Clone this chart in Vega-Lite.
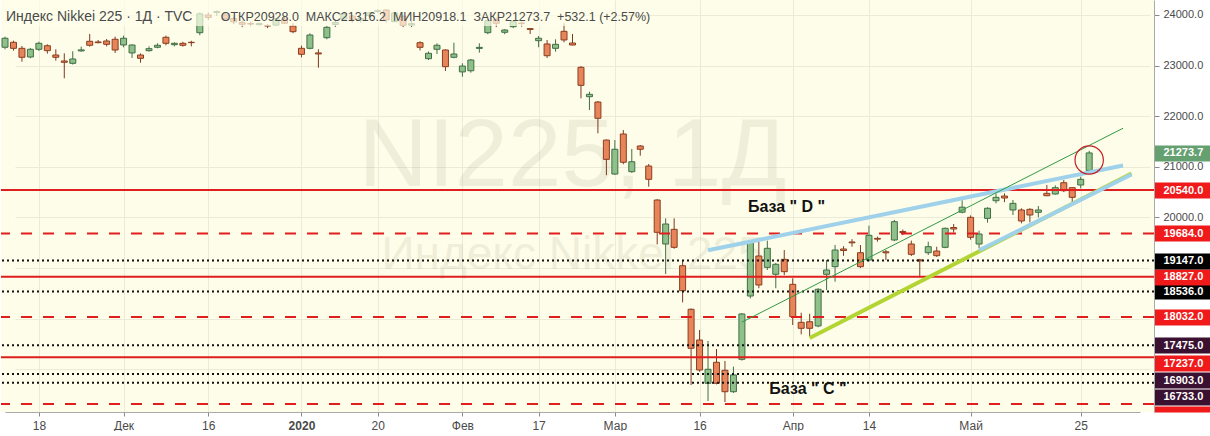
{
  "$schema": "https://vega.github.io/schema/vega-lite/v6.json",
  "width": 1153,
  "height": 412,
  "padding": 0,
  "autosize": {"type": "pad"},
  "background": "#ffffff",
  "config": {"view": {"stroke": null, "fill": "#fefde9"}, "font": "Liberation Sans"},
  "datasets": {
    "candles": [
      {"d":"2019-11-12","o":23362,"h":23572,"l":23322,"c":23540},
      {"d":"2019-11-13","o":23460,"h":23493,"l":23295,"c":23341},
      {"d":"2019-11-14","o":23341,"h":23387,"l":23077,"c":23164},
      {"d":"2019-11-15","o":23170,"h":23348,"l":23144,"c":23322},
      {"d":"2019-11-18","o":23322,"h":23473,"l":23290,"c":23440},
      {"d":"2019-11-19","o":23393,"h":23420,"l":23236,"c":23295},
      {"d":"2019-11-20","o":23209,"h":23322,"l":23097,"c":23164},
      {"d":"2019-11-21","o":23091,"h":23243,"l":22749,"c":23065},
      {"d":"2019-11-22","o":23045,"h":23282,"l":23020,"c":23130},
      {"d":"2019-11-25","o":23290,"h":23374,"l":23275,"c":23310},
      {"d":"2019-11-26","o":23480,"h":23624,"l":23374,"c":23401},
      {"d":"2019-11-27","o":23467,"h":23506,"l":23440,"c":23453},
      {"d":"2019-11-28","o":23486,"h":23525,"l":23380,"c":23420},
      {"d":"2019-11-29","o":23520,"h":23572,"l":23250,"c":23308},
      {"d":"2019-12-02","o":23407,"h":23592,"l":23361,"c":23540},
      {"d":"2019-12-03","o":23250,"h":23420,"l":23152,"c":23407},
      {"d":"2019-12-04","o":23209,"h":23240,"l":23057,"c":23144},
      {"d":"2019-12-05","o":23295,"h":23380,"l":23275,"c":23334},
      {"d":"2019-12-06","o":23362,"h":23440,"l":23342,"c":23401},
      {"d":"2019-12-09","o":23559,"h":23592,"l":23400,"c":23440},
      {"d":"2019-12-10","o":23413,"h":23460,"l":23380,"c":23440},
      {"d":"2019-12-11","o":23440,"h":23470,"l":23375,"c":23401},
      {"d":"2019-12-12","o":23460,"h":23490,"l":23380,"c":23453},
      {"d":"2019-12-13","o":23650,"h":24050,"l":23600,"c":24023},
      {"d":"2019-12-16","o":24000,"h":24050,"l":23900,"c":23952},
      {"d":"2019-12-17","o":24050,"h":24090,"l":23980,"c":24066},
      {"d":"2019-12-18","o":24000,"h":24050,"l":23900,"c":23934},
      {"d":"2019-12-19","o":23930,"h":23970,"l":23820,"c":23864},
      {"d":"2019-12-20","o":23850,"h":23890,"l":23760,"c":23816},
      {"d":"2019-12-23","o":23830,"h":23870,"l":23780,"c":23821},
      {"d":"2019-12-24","o":23810,"h":23850,"l":23790,"c":23830},
      {"d":"2019-12-25","o":23790,"h":23820,"l":23740,"c":23782},
      {"d":"2019-12-26","o":23800,"h":23940,"l":23790,"c":23924},
      {"d":"2019-12-27","o":23920,"h":23960,"l":23820,"c":23837},
      {"d":"2019-12-30","o":23782,"h":23836,"l":23640,"c":23670},
      {"d":"2020-01-06","o":23341,"h":23394,"l":23164,"c":23223},
      {"d":"2020-01-07","o":23341,"h":23638,"l":23322,"c":23604},
      {"d":"2020-01-08","o":23250,"h":23322,"l":22958,"c":23230},
      {"d":"2020-01-09","o":23551,"h":23783,"l":23520,"c":23756},
      {"d":"2020-01-10","o":23813,"h":23903,"l":23761,"c":23850},
      {"d":"2020-01-14","o":23920,"h":24060,"l":23900,"c":24025},
      {"d":"2020-01-15","o":23980,"h":24000,"l":23850,"c":23916},
      {"d":"2020-01-16","o":23900,"h":23950,"l":23850,"c":23933},
      {"d":"2020-01-17","o":23990,"h":24060,"l":23950,"c":24041},
      {"d":"2020-01-20","o":24070,"h":24115,"l":24040,"c":24083},
      {"d":"2020-01-21","o":24098,"h":24110,"l":23850,"c":23901},
      {"d":"2020-01-22","o":23868,"h":24060,"l":23860,"c":24040},
      {"d":"2020-01-23","o":23970,"h":24000,"l":23760,"c":23795},
      {"d":"2020-01-24","o":23800,"h":23880,"l":23760,"c":23827},
      {"d":"2020-01-27","o":23452,"h":23480,"l":23300,"c":23361},
      {"d":"2020-01-28","o":23136,"h":23278,"l":23110,"c":23243},
      {"d":"2020-01-29","o":23322,"h":23440,"l":23230,"c":23401},
      {"d":"2020-01-30","o":23308,"h":23322,"l":22893,"c":22978},
      {"d":"2020-01-31","o":23164,"h":23452,"l":23144,"c":23229},
      {"d":"2020-02-03","o":22875,"h":23045,"l":22780,"c":22991},
      {"d":"2020-02-04","o":22898,"h":23130,"l":22860,"c":23110},
      {"d":"2020-02-05","o":23340,"h":23440,"l":23256,"c":23360},
      {"d":"2020-02-06","o":23650,"h":23920,"l":23620,"c":23887},
      {"d":"2020-02-07","o":23901,"h":23950,"l":23760,"c":23836},
      {"d":"2020-02-10","o":23658,"h":23720,"l":23620,"c":23703},
      {"d":"2020-02-12","o":23768,"h":23880,"l":23740,"c":23867},
      {"d":"2020-02-13","o":23840,"h":23870,"l":23770,"c":23830},
      {"d":"2020-02-14","o":23730,"h":23740,"l":23625,"c":23715},
      {"d":"2020-02-17","o":23492,"h":23585,"l":23362,"c":23540},
      {"d":"2020-02-18","o":23427,"h":23506,"l":23150,"c":23195},
      {"d":"2020-02-19","o":23341,"h":23520,"l":23275,"c":23420},
      {"d":"2020-02-20","o":23677,"h":23835,"l":23460,"c":23506},
      {"d":"2020-02-21","o":23446,"h":23624,"l":23400,"c":23407},
      {"d":"2020-02-25","o":22966,"h":22990,"l":22353,"c":22610},
      {"d":"2020-02-26","o":22385,"h":22484,"l":22122,"c":22432},
      {"d":"2020-02-27","o":22280,"h":22300,"l":21662,"c":21958},
      {"d":"2020-02-28","o":21528,"h":21540,"l":20834,"c":21147},
      {"d":"2020-03-02","o":20857,"h":21528,"l":20840,"c":21346},
      {"d":"2020-03-03","o":21648,"h":21726,"l":21050,"c":21089},
      {"d":"2020-03-04","o":20903,"h":21352,"l":20880,"c":21100},
      {"d":"2020-03-05","o":21411,"h":21430,"l":21219,"c":21346},
      {"d":"2020-03-06","o":21015,"h":21055,"l":20606,"c":20752},
      {"d":"2020-03-09","o":20343,"h":20360,"l":19467,"c":19705},
      {"d":"2020-03-10","o":19474,"h":19981,"l":18880,"c":19869},
      {"d":"2020-03-11","o":19764,"h":19981,"l":19380,"c":19408},
      {"d":"2020-03-12","o":19045,"h":19158,"l":18320,"c":18551},
      {"d":"2020-03-13","o":18184,"h":18200,"l":16687,"c":17413},
      {"d":"2020-03-16","o":17577,"h":17774,"l":16950,"c":16984},
      {"d":"2020-03-17","o":16722,"h":17557,"l":16372,"c":16998},
      {"d":"2020-03-18","o":17136,"h":17399,"l":16700,"c":16722},
      {"d":"2020-03-19","o":16978,"h":17162,"l":16351,"c":16555},
      {"d":"2020-03-23","o":16555,"h":17050,"l":16530,"c":16886},
      {"d":"2020-03-24","o":17195,"h":18110,"l":17170,"c":18091},
      {"d":"2020-03-25","o":18446,"h":19540,"l":18400,"c":19519},
      {"d":"2020-03-26","o":19237,"h":19519,"l":18600,"c":18664},
      {"d":"2020-03-27","o":19013,"h":19540,"l":18960,"c":19389},
      {"d":"2020-03-30","o":18876,"h":19100,"l":18600,"c":19073},
      {"d":"2020-03-31","o":19171,"h":19355,"l":18860,"c":18927},
      {"d":"2020-04-01","o":18677,"h":18796,"l":17873,"c":18038},
      {"d":"2020-04-02","o":17926,"h":18116,"l":17689,"c":17808},
      {"d":"2020-04-03","o":17938,"h":18096,"l":17646,"c":17808},
      {"d":"2020-04-06","o":17854,"h":18600,"l":17830,"c":18579},
      {"d":"2020-04-07","o":18875,"h":19158,"l":18565,"c":18960},
      {"d":"2020-04-08","o":19026,"h":19454,"l":18729,"c":19355},
      {"d":"2020-04-09","o":19375,"h":19430,"l":19240,"c":19345},
      {"d":"2020-04-10","o":19514,"h":19570,"l":19420,"c":19498},
      {"d":"2020-04-13","o":19302,"h":19454,"l":19000,"c":19026},
      {"d":"2020-04-14","o":19158,"h":19836,"l":19130,"c":19646},
      {"d":"2020-04-15","o":19585,"h":19620,"l":19520,"c":19570},
      {"d":"2020-04-16","o":19320,"h":19355,"l":19158,"c":19300},
      {"d":"2020-04-17","o":19553,"h":19950,"l":19530,"c":19915},
      {"d":"2020-04-20","o":19720,"h":19760,"l":19650,"c":19700},
      {"d":"2020-04-21","o":19474,"h":19541,"l":19236,"c":19270},
      {"d":"2020-04-22","o":19160,"h":19180,"l":18808,"c":19140},
      {"d":"2020-04-23","o":19302,"h":19520,"l":19256,"c":19421},
      {"d":"2020-04-24","o":19335,"h":19420,"l":19220,"c":19243},
      {"d":"2020-04-27","o":19408,"h":19800,"l":19390,"c":19784},
      {"d":"2020-04-28","o":19800,"h":19870,"l":19700,"c":19770},
      {"d":"2020-04-30","o":20102,"h":20340,"l":20080,"c":20201},
      {"d":"2020-05-01","o":20001,"h":20040,"l":19560,"c":19606},
      {"d":"2020-05-07","o":19474,"h":19737,"l":19389,"c":19672},
      {"d":"2020-05-08","o":19981,"h":20200,"l":19895,"c":20180},
      {"d":"2020-05-11","o":20329,"h":20475,"l":20277,"c":20396},
      {"d":"2020-05-12","o":20422,"h":20475,"l":20300,"c":20383},
      {"d":"2020-05-13","o":20146,"h":20343,"l":20047,"c":20277},
      {"d":"2020-05-14","o":20146,"h":20180,"l":19883,"c":19929},
      {"d":"2020-05-15","o":20159,"h":20180,"l":19902,"c":20047},
      {"d":"2020-05-18","o":20100,"h":20225,"l":20001,"c":20146},
      {"d":"2020-05-19","o":20475,"h":20639,"l":20420,"c":20428},
      {"d":"2020-05-20","o":20462,"h":20633,"l":20450,"c":20587},
      {"d":"2020-05-21","o":20685,"h":20739,"l":20500,"c":20527},
      {"d":"2020-05-22","o":20587,"h":20600,"l":20277,"c":20396},
      {"d":"2020-05-25","o":20640,"h":20804,"l":20574,"c":20752},
      {"d":"2020-05-26","o":20928.0,"h":21316.2,"l":20918.1,"c":21273.7}
    ],
    "levels": [
      {"v":20540,"k":"solid"},{"v":19684,"k":"dashed"},{"v":19147,"k":"dotted"},
      {"v":18827,"k":"solid"},{"v":18536,"k":"dotted"},{"v":18032,"k":"dashed"},
      {"v":17475,"k":"dotted"},{"v":17237,"k":"solid"},{"v":16903,"k":"dotted"},
      {"v":16733,"k":"dotted"},{"v":16312,"k":"dashed"}
    ],
    "trend": [
      {"t":"green","d":"2020-03-24","p":17929},{"t":"green","d":"2020-06-01","p":21762},
      {"t":"blue1","d":"2020-03-17","p":19349},{"t":"blue1","d":"2020-06-01","p":21027},
      {"t":"lime","d":"2020-04-03","p":17616},{"t":"lime","d":"2020-06-02","p":20867},
      {"t":"blue2","d":"2020-05-07","p":19349},{"t":"blue2","d":"2020-06-02","p":20847}
    ]
  },
  "layer": [
    {
      "data": {"values": [{}]},
      "mark": {"type": "text", "text": "NI225, 1Д", "fontSize": 96, "color": "#8c8a6e", "opacity": 0.12, "align": "center", "baseline": "middle"},
      "encoding": {
        "x": {
          "datum": "2020-02-21", "type": "ordinal",
          "scale": {"type": "point", "padding": 0, "range": [4, 1139], "domain": ["2019-11-12","2019-11-13","2019-11-14","2019-11-15","2019-11-18","2019-11-19","2019-11-20","2019-11-21","2019-11-22","2019-11-25","2019-11-26","2019-11-27","2019-11-28","2019-11-29","2019-12-02","2019-12-03","2019-12-04","2019-12-05","2019-12-06","2019-12-09","2019-12-10","2019-12-11","2019-12-12","2019-12-13","2019-12-16","2019-12-17","2019-12-18","2019-12-19","2019-12-20","2019-12-23","2019-12-24","2019-12-25","2019-12-26","2019-12-27","2019-12-30","2020-01-06","2020-01-07","2020-01-08","2020-01-09","2020-01-10","2020-01-14","2020-01-15","2020-01-16","2020-01-17","2020-01-20","2020-01-21","2020-01-22","2020-01-23","2020-01-24","2020-01-27","2020-01-28","2020-01-29","2020-01-30","2020-01-31","2020-02-03","2020-02-04","2020-02-05","2020-02-06","2020-02-07","2020-02-10","2020-02-12","2020-02-13","2020-02-14","2020-02-17","2020-02-18","2020-02-19","2020-02-20","2020-02-21","2020-02-25","2020-02-26","2020-02-27","2020-02-28","2020-03-02","2020-03-03","2020-03-04","2020-03-05","2020-03-06","2020-03-09","2020-03-10","2020-03-11","2020-03-12","2020-03-13","2020-03-16","2020-03-17","2020-03-18","2020-03-19","2020-03-23","2020-03-24","2020-03-25","2020-03-26","2020-03-27","2020-03-30","2020-03-31","2020-04-01","2020-04-02","2020-04-03","2020-04-06","2020-04-07","2020-04-08","2020-04-09","2020-04-10","2020-04-13","2020-04-14","2020-04-15","2020-04-16","2020-04-17","2020-04-20","2020-04-21","2020-04-22","2020-04-23","2020-04-24","2020-04-27","2020-04-28","2020-04-30","2020-05-01","2020-05-07","2020-05-08","2020-05-11","2020-05-12","2020-05-13","2020-05-14","2020-05-15","2020-05-18","2020-05-19","2020-05-20","2020-05-21","2020-05-22","2020-05-25","2020-05-26","2020-05-27","2020-05-28","2020-05-29","2020-06-01","2020-06-02","2020-06-03"]},
          "axis": {
            "orient": "bottom", "title": null,
            "values": ["2019-11-18","2019-12-02","2019-12-16","2020-01-06","2020-01-20","2020-02-03","2020-02-17","2020-03-02","2020-03-16","2020-04-01","2020-04-14","2020-05-01","2020-05-25"],
            "labelExpr": "({'2019-11-18':'18','2019-12-02':'Дек','2019-12-16':'16','2020-01-06':'2020','2020-01-20':'20','2020-02-03':'Фев','2020-02-17':'17','2020-03-02':'Мар','2020-03-16':'16','2020-04-01':'Апр','2020-04-14':'14','2020-05-01':'Май','2020-05-25':'25'})[datum.value]",
            "labelAngle": 0, "labelOverlap": false,
            "grid": true, "gridColor": "#ecebd8",
            "domainColor": "#a9a9a9", "tickColor": "#8a8a8a", "tickSize": 4,
            "labelColor": "#4a4a4a", "labelFontSize": 12, "labelPadding": 4,
            "labelFontWeight": {"condition": {"test": "datum.value == '2020-01-06'", "value": "bold"}, "value": "normal"}
          }
        },
        "y": {
          "datum": 21193, "type": "quantitative",
          "scale": {"domain": [16154, 24296], "nice": false, "zero": false},
          "axis": {
            "orient": "right", "title": null,
            "tickCount": 100,
            "values": [24000, 23000, 22000, 21000, 20000, 19000, 18000, 17000, 21273.7, 20540, 19684, 19147, 18827, 18536, 18032, 17475, 17116, 16786, 16456, 16213],
            "labelExpr": "(datum.value == 16213 || datum.value == 19000 || datum.value == 18000 || datum.value == 17000) ? '' : datum.value == 17116 ? '17237.0' : datum.value == 16786 ? '16903.0' : datum.value == 16456 ? '16733.0' : format(datum.value, '.1f')",
            "grid": true, "gridColor": "#ecebd8",
            "gridOpacity": {"condition": {"test": "datum.value % 1000 == 0", "value": 1}, "value": 0},
            "domainColor": "#a9a9a9",
            "tickSize": 57,
            "tickWidth": {"condition": [
              {"test": "datum.value % 1000 == 0", "value": 1},
              {"test": "datum.value == 16213", "value": 6}
            ], "value": 16},
            "tickDash": {"condition": {"test": "datum.value % 1000 == 0", "value": [5, 100]}, "value": [1, 0]},
            "tickOpacity": {"condition": {"test": "datum.value % 1000 == 0 && datum.value < 20000", "value": 0}, "value": 1},
            "tickColor": {"condition": [
              {"test": "datum.value % 1000 == 0", "value": "#8a8a8a"},
              {"test": "datum.value == 21273.7", "value": "#64a070"},
              {"test": "datum.value == 19147 || datum.value == 18536", "value": "#000000"},
              {"test": "datum.value == 17475 || datum.value == 16786 || datum.value == 16456", "value": "#3b1131"}
            ], "value": "#f01a1a"},
            "labelPadding": -48,
            "labelColor": {"condition": {"test": "datum.value % 1000 == 0", "value": "#4a4a4a"}, "value": "#ffffff"},
            "labelFontWeight": {"condition": {"test": "datum.value % 1000 == 0", "value": "normal"}, "value": "bold"},
            "labelFontSize": 11,
            "labelOverlap": false, "labelBound": false, "labelFlush": false
          }
        }
      }
    },
    {
      "data": {"values": [{}]},
      "mark": {"type": "text", "text": "Индекс Nikkei 225", "fontSize": 46, "color": "#8c8a6e", "opacity": 0.12, "align": "center", "baseline": "middle"},
      "encoding": {
        "x": {"datum": "2020-02-21", "type": "ordinal"},
        "y": {"datum": 19256, "type": "quantitative"}
      }
    },
    {
      "data": {"name": "candles"},
      "mark": {"type": "rule", "strokeWidth": 1},
      "encoding": {
        "x": {"field": "d", "type": "ordinal"},
        "y": {"field": "l", "type": "quantitative"},
        "y2": {"field": "h"},
        "color": {"condition": {"test": "datum.c >= datum.o", "value": "#3f6e45"}, "value": "#7c3a20"}
      }
    },
    {
      "data": {"name": "candles"},
      "mark": {"type": "bar", "width": 6, "strokeWidth": 1},
      "encoding": {
        "x": {"field": "d", "type": "ordinal"},
        "y": {"field": "o", "type": "quantitative"},
        "y2": {"field": "c"},
        "fill": {"condition": {"test": "datum.c >= datum.o", "value": "#8fc08a"}, "value": "#e8845a"},
        "stroke": {"condition": {"test": "datum.c >= datum.o", "value": "#3f6e45"}, "value": "#8a3e1f"}
      }
    },
    {
      "data": {"name": "levels"},
      "mark": {"type": "rule", "strokeWidth": 2},
      "encoding": {
        "y": {"field": "v", "type": "quantitative"},
        "color": {"field": "k", "type": "nominal", "scale": {"domain": ["solid", "dashed", "dotted"], "range": ["#e01e1e", "#e01e1e", "#111111"]}, "legend": null},
        "strokeDash": {"field": "k", "type": "nominal", "scale": {"domain": ["solid", "dashed", "dotted"], "range": [[1, 0], [11, 11], [2, 3]]}, "legend": null}
      }
    },
    {
      "data": {"name": "trend"},
      "transform": [{"filter": "datum.t == 'lime'"}],
      "mark": {"type": "line", "strokeWidth": 4, "color": "#b2d534"},
      "encoding": {
        "x": {"field": "d", "type": "ordinal"},
        "y": {"field": "p", "type": "quantitative"}
      }
    },
    {
      "data": {"name": "trend"},
      "transform": [{"filter": "datum.t == 'blue2' || datum.t == 'blue1'"}],
      "mark": {"type": "line", "strokeWidth": 4, "color": "#9fd2ea"},
      "encoding": {
        "x": {"field": "d", "type": "ordinal"},
        "y": {"field": "p", "type": "quantitative"},
        "detail": {"field": "t"}
      }
    },
    {
      "data": {"name": "trend"},
      "transform": [{"filter": "datum.t == 'green'"}],
      "mark": {"type": "line", "strokeWidth": 1, "color": "#2f9a45"},
      "encoding": {
        "x": {"field": "d", "type": "ordinal"},
        "y": {"field": "p", "type": "quantitative"}
      }
    },
    {
      "data": {"values": [{}]},
      "mark": {"type": "point", "shape": "circle", "size": 804, "filled": false, "stroke": "#c21f26", "strokeWidth": 1.2, "opacity": 1},
      "encoding": {
        "x": {"datum": "2020-05-26", "type": "ordinal"},
        "y": {"datum": 21134, "type": "quantitative"}
      }
    },
    {
      "data": {"values": [{}]},
      "mark": {"type": "text", "text": "База \" D \"", "fontSize": 16, "fontWeight": "bold", "color": "#111111", "align": "left", "baseline": "middle", "dx": 6},
      "encoding": {
        "x": {"datum": "2020-03-24", "type": "ordinal"},
        "y": {"datum": 20205, "type": "quantitative"}
      }
    },
    {
      "data": {"values": [{}]},
      "mark": {"type": "text", "text": "База \" C \"", "fontSize": 16, "fontWeight": "bold", "color": "#111111", "align": "left", "baseline": "middle", "dx": 2},
      "encoding": {
        "x": {"datum": "2020-03-27", "type": "ordinal"},
        "y": {"datum": 16608, "type": "quantitative"}
      }
    },
    {
      "data": {"values": [{}]},
      "mark": {"type": "rect", "fill": "#fefde9", "opacity": 0.7},
      "encoding": {
        "x": {"datum": "2019-11-12", "type": "ordinal"},
        "x2": {"datum": "2020-03-02"},
        "y": {"datum": 23782, "type": "quantitative"},
        "y2": {"datum": 24296}
      }
    },
    {
      "data": {"values": [{}]},
      "mark": {"type": "text", "text": "Индекс Nikkei 225 · 1Д · TVC", "fontSize": 14, "color": "#4a4a4a", "align": "left", "baseline": "middle", "dx": 1},
      "encoding": {
        "x": {"datum": "2019-11-12", "type": "ordinal"},
        "y": {"datum": 23960, "type": "quantitative"}
      }
    },
    {
      "data": {"values": [{}]},
      "mark": {"type": "text", "text": "ОТКР20928.0\u00a0\u00a0МАКС21316.2\u00a0\u00a0МИН20918.1\u00a0\u00a0ЗАКР21273.7\u00a0\u00a0+532.1 (+2.57%)", "fontSize": 12.5, "color": "#4a4a4a", "align": "left", "baseline": "middle", "dx": 4},
      "encoding": {
        "x": {"datum": "2019-12-17", "type": "ordinal"},
        "y": {"datum": 23960, "type": "quantitative"}
      }
    }
  ]
}
